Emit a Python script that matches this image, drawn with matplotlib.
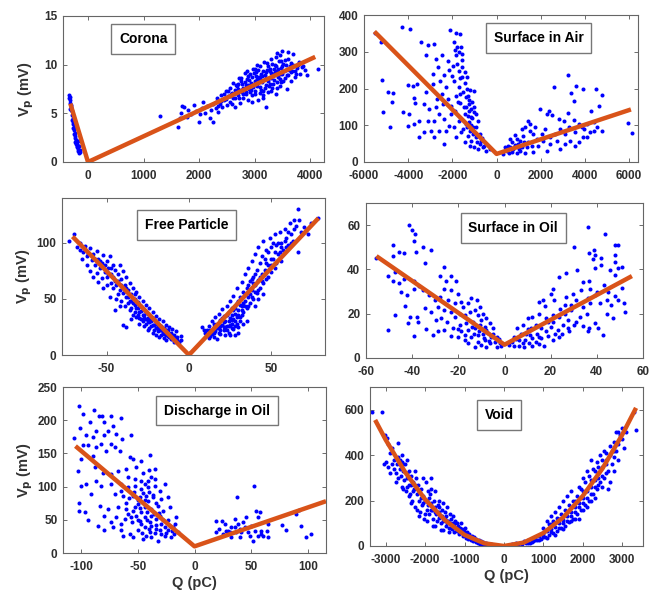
import matplotlib
matplotlib.use("Agg")
import matplotlib.pyplot as plt

plt.rcParams['font.family'] = ['Liberation Sans', 'DejaVu Sans']
plt.rcParams['font.weight'] = 'bold'
plt.rcParams['axes.labelweight'] = 'bold'
plt.rcParams['axes.unicode_minus'] = False

# ---- data: (Q in pC, Vp in mV) ----
corona_pts = [
    (-345, 6.6), (-335, 6.9), (-325, 6.4), (-330, 6.1), (-318, 6.7), (-310, 5.9), (-300, 5.6), (-315, 5.4),
    (-290, 5.2), (-285, 4.8), (-275, 4.5), (-270, 4.1), (-262, 3.9), (-255, 3.6), (-245, 3.3), (-240, 3.0),
    (-232, 2.7), (-225, 2.5), (-215, 2.3), (-208, 2.0), (-200, 1.8), (-192, 1.6), (-185, 1.3), (-175, 1.1),
    (-165, 0.9), (-150, 1.2), (-140, 1.0), (-230, 2.1), (-250, 2.9), (-265, 3.5), (-280, 4.3), (-305, 5.3),
    (-220, 1.9), (-205, 1.5), (-180, 2.2), (-160, 1.6),
    (1300, 4.7), (1620, 3.6), (1650, 4.5), (1680, 5.0), (1700, 5.8), (1720, 5.6), (1780, 4.6), (1800, 5.3),
    (1850, 4.9), (1900, 5.9), (1950, 5.2), (2000, 4.1), (2020, 4.9), (2050, 5.5), (2080, 6.2), (2100, 5.0),
    (2150, 5.8), (2200, 4.5), (2220, 5.3), (2250, 4.1), (2260, 6.0), (2300, 5.5), (2320, 6.6), (2350, 5.1),
    (2380, 6.0), (2400, 6.9), (2420, 5.7), (2450, 6.4), (2480, 7.3), (2500, 5.9), (2520, 6.8), (2550, 7.6),
    (2560, 6.2), (2600, 7.1), (2620, 8.1), (2640, 5.6), (2650, 6.6), (2680, 7.8), (2700, 6.9), (2720, 8.6),
    (2740, 6.1), (2750, 7.4), (2780, 8.0), (2800, 6.6), (2820, 9.1), (2840, 7.2), (2850, 7.9), (2870, 8.5),
    (2880, 6.4), (2900, 7.5), (2920, 9.0), (2940, 8.1), (2950, 6.9), (2970, 7.7), (2980, 9.6), (3000, 8.3),
    (3010, 7.0), (3030, 9.2), (3050, 7.8), (3060, 6.4), (3080, 8.7), (3100, 9.9), (3110, 7.4), (3130, 8.2),
    (3150, 9.4), (3160, 6.9), (3180, 8.9), (3200, 5.6), (3200, 7.9), (3220, 10.2), (3240, 8.5), (3250, 7.2),
    (3270, 9.6), (3280, 8.0), (3300, 10.6), (3310, 7.6), (3330, 9.0), (3350, 8.4), (3360, 10.0), (3380, 7.0),
    (3400, 11.2), (3400, 9.3), (3420, 8.7), (3440, 10.4), (3450, 7.8), (3470, 9.7), (3480, 8.2), (3500, 11.4),
    (3500, 9.0), (3520, 10.1), (3540, 8.6), (3560, 9.5), (3580, 7.5), (3600, 10.6), (3610, 8.9), (3630, 9.9),
    (3650, 8.3), (3680, 9.4), (3700, 11.1), (3700, 10.0), (3730, 8.7), (3760, 9.7), (3800, 10.3), (3820, 9.0),
    (3850, 9.8), (3900, 9.5), (3950, 8.9), (4150, 9.6), (2600, 6.0), (2700, 8.0), (2900, 8.4), (3000, 9.6),
    (3100, 8.5), (3200, 9.2), (2800, 7.6), (3300, 8.6), (3400, 7.6), (3150, 7.3), (2950, 8.7), (3050, 10.0),
    (3250, 9.9), (2850, 7.0), (3350, 9.6), (3450, 9.0), (3550, 10.5), (3650, 9.2), (2750, 8.6), (2550, 6.8),
    (2450, 7.0), (3000, 7.3), (3100, 7.1), (3250, 8.3), (2650, 7.4), (2780, 7.2), (2880, 7.9), (3020, 8.8),
    (3120, 9.0), (3180, 7.6), (3280, 9.3), (3380, 9.9), (3480, 10.4), (3580, 8.9), (2720, 6.6), (2920, 7.2),
    (2300, 6.2), (2350, 5.8), (2400, 6.3), (2480, 6.5), (2530, 7.3), (2580, 7.0), (2620, 6.6), (2660, 7.9),
    (2700, 7.5), (2760, 8.3), (2790, 7.0), (2830, 8.2), (2860, 9.3), (2890, 8.8), (2930, 7.4), (2960, 8.0),
    (2990, 9.1), (3040, 8.5), (3070, 9.5), (3090, 7.7), (3140, 8.8), (3170, 10.3), (3210, 8.6), (3230, 9.5),
    (3260, 7.8), (3290, 9.1), (3320, 10.1), (3340, 8.0), (3370, 9.2), (3390, 10.8), (3410, 8.2), (3430, 9.6),
    (3460, 8.5), (3490, 9.9), (3510, 8.3), (3530, 9.3), (3570, 10.0), (3620, 9.5), (3660, 10.2), (3720, 9.3),
    (3780, 10.0), (3300, 7.3), (3150, 6.6), (2950, 6.2), (3450, 11.0), (3600, 11.3), (3750, 9.0), (3870, 9.9),
]
corona_fit = [(-318, 6.0), (0, 0.0), (4092, 10.8)]

air_pts = [
    (-5500, 350), (-5210, 326), (-4290, 368), (-3920, 362), (-5170, 224), (-4900, 191), (-4670, 189),
    (-4740, 162), (-5140, 135), (-4830, 94), (-4000, 210), (-3760, 208), (-3580, 212), (-3730, 173),
    (-3680, 160), (-4230, 135), (-3990, 99), (-3500, 67), (-3420, 326), (-3090, 318), (-2850, 321),
    (-3200, 292), (-2740, 280), (-2470, 292), (-2090, 359), (-1830, 350), (-1640, 347), (-1600, 312),
    (-1940, 326), (-2210, 276), (-2670, 258), (-2360, 238), (-2140, 250), (-2030, 235), (-1830, 290),
    (-1790, 267), (-1580, 258), (-1910, 221), (-1640, 229), (-1450, 214), (-1530, 190), (-1300, 180),
    (-1120, 162), (-1000, 192), (-2890, 239), (-2890, 212), (-3200, 190), (-3300, 158), (-3050, 144),
    (-2740, 149), (-2590, 131), (-3120, 112), (-2820, 111), (-2360, 117), (-2060, 131), (-3500, 112),
    (-3270, 81), (-2970, 85), (-2820, 67), (-2590, 84), (-2360, 49), (-2290, 85), (-2140, 99), (-1910, 95),
    (-1830, 67), (-1600, 81), (-1680, 112), (-1450, 131), (-1380, 103), (-1230, 140), (-1150, 122),
    (-1000, 149), (-920, 131), (-850, 112), (-1070, 95), (-1300, 72), (-1150, 58), (-920, 67), (-770, 49),
    (-620, 40), (-850, 35), (-470, 31), (-320, 35), (-700, 58), (-1380, 176), (-1270, 158), (-1180, 144),
    (-1030, 135), (-1490, 149), (-1330, 199), (-1450, 244), (-1710, 248), (-1580, 277), (-1790, 312),
    (-2470, 185), (-2700, 171), (-2440, 158), (-2210, 171), (-2060, 153), (-1880, 140), (-1760, 162),
    (-1640, 185), (-2290, 203), (-2550, 221), (-3950, 131), (-3730, 103), (-1200, 44), (-1450, 54),
    (-1000, 40), (-550, 44), (-1250, 110), (-1100, 120), (-1350, 95), (-1200, 85), (-1050, 75),
    (-950, 95), (-1400, 150), (-1150, 100), (-1300, 125), (-1250, 170), (-1550, 230), (-1700, 205),
    (-1850, 180), (-1950, 260), (-1700, 300), (-1550, 295), (-1900, 305), (-1200, 195), (-1350, 230),
    (-1650, 160), (-1500, 90), (-900, 55), (-750, 75), (-650, 65),
    (3227, 237), (2576, 205), (3590, 208), (3363, 188), (3893, 198), (4515, 200), (4788, 182), (3515, 167),
    (4636, 152), (1970, 144), (2394, 140), (2273, 131), (2500, 127), (3212, 132), (4272, 138), (5939, 107),
    (6136, 80), (1439, 112), (1515, 103), (1288, 94), (1742, 94), (2197, 90), (2803, 117), (3030, 111),
    (3485, 114), (3863, 94), (4090, 103), (4394, 85), (4788, 84), (4090, 67), (3712, 54), (3333, 58),
    (2879, 35), (2424, 49), (2121, 58), (1894, 44), (1667, 76), (1212, 72), (909, 63), (682, 54), (530, 44),
    (758, 35), (1061, 31), (455, 31), (1364, 40), (1591, 44), (985, 49), (606, 63), (833, 74), (1136, 90),
    (1818, 63), (2652, 76), (3106, 76), (3561, 81), (3909, 67), (3106, 49), (3561, 44), (2273, 31),
    (1667, 26), (1288, 24), (303, 22), (909, 24), (1439, 54), (2045, 76), (2424, 67), (2879, 90),
    (3257, 94), (3712, 103), (3970, 90), (4394, 108), (4545, 94), (4242, 81), (2727, 58), (606, 40),
    (379, 42), (1061, 58), (1515, 85), (700, 28), (850, 45), (1150, 40), (550, 25), (1000, 36), (1250, 55),
]
air_fit = [(-5530, 355), (0, 22), (6080, 143)]

particle_pts = [
    (-73, 102), (-70, 108), (-68, 96), (-66, 100), (-64, 92), (-63, 97), (-62, 88), (-60, 95), (-59, 85),
    (-58, 90), (-57, 80), (-56, 93), (-55, 86), (-54, 78), (-53, 82), (-52, 89), (-51, 74), (-50, 84),
    (-50, 70), (-49, 78), (-48, 88), (-47, 72), (-46, 80), (-45, 66), (-45, 76), (-44, 62), (-43, 72),
    (-42, 80), (-42, 58), (-41, 68), (-40, 75), (-40, 55), (-39, 62), (-38, 52), (-38, 70), (-37, 58),
    (-36, 48), (-36, 64), (-35, 54), (-34, 46), (-34, 60), (-33, 50), (-32, 42), (-32, 56), (-31, 47),
    (-30, 38), (-30, 52), (-29, 44), (-28, 36), (-28, 48), (-27, 40), (-26, 32), (-26, 45), (-25, 37),
    (-24, 29), (-24, 42), (-23, 34), (-22, 27), (-22, 38), (-21, 31), (-20, 24), (-20, 35), (-19, 28),
    (-18, 22), (-18, 32), (-17, 26), (-16, 20), (-16, 30), (-15, 24), (-14, 18), (-14, 27), (-13, 22),
    (-12, 16), (-12, 25), (-11, 20), (-10, 14), (-10, 23), (-9, 18), (-8, 13), (-8, 21), (-7, 16), (-6, 12),
    (-5, 17), (-5, 13), (-38, 25), (-40, 27), (-35, 32), (-30, 28), (-27, 26), (-25, 22), (-22, 20),
    (-20, 18), (-45, 40), (-42, 44), (-48, 52), (-55, 65), (-60, 75), (-65, 86), (-52, 60), (-46, 60),
    (-44, 50), (-33, 38), (-36, 40), (-29, 32), (-26, 28), (-24, 24), (-18, 16), (-15, 15), (-14, 13),
    (-21, 22), (-23, 26), (-31, 36), (-37, 46), (-39, 44), (-43, 54), (-47, 64), (-50, 62), (-56, 73),
    (-62, 80), (-58, 70), (-53, 69), (-41, 48), (-34, 36), (-28, 30), (-19, 21), (-17, 18), (-11, 14),
    (-9, 12), (-32, 34), (-27, 33), (-23, 30), (-20, 28), (-17, 22), (-13, 17), (-30, 33), (-25, 30),
    (-66, 94), (-61, 90), (-57, 86), (-54, 84), (-49, 72), (-46, 70), (-44, 66), (-41, 62), (-39, 57),
    (-37, 52), (-35, 48), (-33, 45), (-31, 42), (-29, 39), (-27, 36), (-25, 33), (-23, 31), (-21, 27),
    (-19, 25), (-17, 22), (-15, 19), (-13, 19), (-11, 17), (-9, 15), (-7, 13), (-35, 42), (-30, 45),
    (-26, 38), (-22, 33), (-18, 27), (-14, 22), (-10, 18), (-43, 66), (-47, 78), (-51, 80), (-38, 60),
    (-33, 54),
    (8, 25), (9, 22), (10, 20), (11, 18), (12, 26), (12, 15), (13, 22), (14, 19), (14, 30), (15, 16),
    (15, 25), (16, 21), (16, 34), (17, 28), (17, 14), (18, 24), (18, 37), (19, 19), (19, 31), (20, 27),
    (20, 41), (21, 22), (21, 35), (22, 30), (22, 18), (23, 44), (23, 26), (24, 38), (24, 20), (25, 33),
    (25, 48), (26, 28), (26, 42), (27, 23), (27, 53), (28, 37), (28, 30), (29, 46), (29, 60), (30, 40),
    (30, 25), (31, 52), (31, 34), (32, 65), (32, 44), (33, 38), (33, 56), (34, 48), (34, 72), (35, 42),
    (35, 60), (36, 52), (36, 78), (37, 46), (37, 66), (38, 58), (38, 84), (39, 50), (39, 70), (40, 62),
    (40, 90), (41, 55), (41, 76), (42, 67), (42, 96), (43, 60), (43, 82), (44, 72), (45, 102), (45, 64),
    (46, 86), (46, 76), (47, 68), (48, 92), (48, 80), (49, 104), (50, 74), (50, 96), (51, 86), (52, 108),
    (52, 78), (53, 98), (54, 90), (55, 110), (56, 84), (56, 100), (57, 94), (58, 112), (59, 104), (60, 98),
    (61, 118), (62, 108), (63, 102), (64, 112), (66, 130), (66, 92), (67, 120), (70, 114), (72, 108),
    (78, 122), (20, 33), (22, 25), (24, 30), (26, 36), (28, 26), (30, 48), (32, 36), (34, 54), (36, 62),
    (38, 68), (40, 72), (44, 88), (47, 94), (50, 86), (53, 82), (35, 30), (40, 44), (45, 54), (28, 18),
    (25, 18), (30, 20), (33, 28), (18, 20), (15, 20), (19, 26), (21, 29), (23, 22), (26, 24), (29, 34),
    (31, 30), (27, 40), (33, 46), (37, 54), (42, 50),
    (11, 22), (13, 17), (15, 28), (17, 24), (19, 22), (21, 25), (23, 36), (25, 27), (27, 32), (29, 28),
    (30, 36), (32, 40), (34, 44), (36, 44), (38, 52), (40, 56), (42, 58), (44, 66), (46, 72), (48, 70),
    (50, 80), (52, 92), (54, 100), (56, 96), (58, 102), (60, 110), (62, 100), (64, 120), (24, 26), (26, 31),
    (28, 42), (31, 45), (35, 55), (39, 64), (43, 70), (47, 82), (51, 100), (55, 92), (59, 96), (65, 115),
    (68, 110), (74, 118),
]
particle_fit = [(-70.6, 105.6), (0, 0), (78.5, 122)]

oil_surface_pts = [
    (-41.5, 60), (-40, 58), (-38.8, 56), (-39.4, 53), (-48.2, 51), (-45.9, 48), (-43.4, 47.5), (-38.3, 48),
    (-35.1, 50), (-31.8, 49), (-34.3, 43), (-48.5, 46), (-55.8, 45), (-50.4, 37), (-47.5, 39), (-45.6, 34),
    (-48.1, 35), (-43.4, 35.5), (-39, 35), (-36.9, 32.5), (-44.9, 30), (-42.2, 28.4), (-39.4, 31),
    (-35.4, 30.7), (-32.5, 28.4), (-30, 26), (-43, 23.5), (-47.5, 19.4), (-41, 18.6), (-37.9, 18.6),
    (-42, 16), (-37.6, 16.4), (-50.3, 12.6), (-39.4, 10), (-34, 13), (-31.1, 10.4), (-26, 41), (-28.1, 37),
    (-25.2, 35), (-23.3, 37), (-20.9, 35), (-26.3, 31), (-23, 30.7), (-20.1, 29), (-28.1, 27.7),
    (-24.5, 26), (-21.6, 24.7), (-18.7, 25.4), (-15.8, 24.7), (-18, 23), (-14.3, 27), (-12.1, 26),
    (-10.7, 23), (-28.9, 23), (-26, 21.7), (-23, 21), (-31.8, 21), (-34.4, 22.4), (-29.6, 17), (-27.4, 18),
    (-24.8, 16.4), (-21.6, 18.6), (-19.4, 20), (-17.2, 19.4), (-15.1, 21), (-12.9, 21.7), (-11.4, 19.4),
    (-9.3, 20), (-7.8, 18), (-10, 17), (-13.6, 16.4), (-16.5, 15.6), (-19.4, 15), (-22.3, 13.4), (-26, 12.6),
    (-28.9, 12), (-18.7, 12), (-15.8, 12.6), (-12.9, 13.4), (-10.7, 15), (-8.5, 14), (-6.3, 15.6),
    (-4.9, 13.4), (-17.2, 8), (-14.3, 9.6), (-11.4, 10.4), (-9.3, 11), (-7.1, 11.4), (-11.4, 7.4),
    (-8.5, 8), (-6.3, 6.6), (-4.1, 7.4), (-3.4, 9.6), (-6, 9.6), (-7.8, 5.1), (-3.4, 5.1), (-10, 6),
    (-12.9, 5.1), (-15.8, 6.6), (-20.1, 9.6), (-23, 10), (-2, 6.6), (-5, 11), (-8, 12.5), (-13, 11),
    (-9, 9), (-2.5, 8.5), (-6.5, 7.8), (-1.5, 5.5), (-14, 14), (-11, 12), (-17, 10.5), (-20, 13),
    (36.1, 59), (43.4, 56), (47.8, 51), (49, 51), (30, 50), (36.6, 47.5), (38.6, 49), (39, 46.5),
    (47.8, 46.5), (38.3, 44.5), (42, 45), (42, 42), (39, 40.5), (45.6, 39.7), (47.8, 43.4), (49.2, 40.5),
    (50.7, 41), (47.8, 37.4), (26.7, 38.5), (31.5, 39.7), (36.4, 35), (37.2, 31), (33.9, 34.4), (23.5, 36.7),
    (20.9, 31), (20.2, 29), (16.5, 26), (15.1, 25.4), (17.7, 23.5), (21.6, 26), (26.7, 27.7), (29.6, 29),
    (33.2, 30.7), (36.1, 27), (39, 28.4), (41.2, 24.7), (44.2, 26), (50.7, 31.4), (52.1, 21), (47, 18),
    (42.7, 10.4), (36.1, 12), (39, 15.6), (40.5, 13.4), (35.7, 20), (32.5, 18.6), (28.9, 21.7), (26, 20),
    (23.8, 18.6), (20.9, 19.4), (18, 18), (15.1, 20), (12.1, 18.6), (10, 18), (7.8, 15), (5.6, 13.4),
    (4.1, 9.6), (6.3, 8), (9.3, 11), (11.4, 13.4), (13.6, 15), (15.8, 13.4), (18, 12), (20.2, 14), (23, 12.6),
    (25.2, 15), (27.4, 13.4), (30.3, 15), (23.8, 9.6), (20.9, 8), (17.2, 5.6), (13.6, 7.4), (10.7, 6.6),
    (8.5, 5.1), (6.3, 5.6), (15.1, 9.6), (12.1, 9), (7, 11), (3.4, 7.4), (18.7, 16.4), (21, 16.4),
    (27.4, 17), (31, 16.4), (33.9, 14.4), (36.8, 13.7), (44.2, 20), (46.3, 24), (49.2, 26), (51.7, 24.7),
    (2, 6), (4, 5.5), (9, 8), (11, 10.5), (14, 11), (16, 9), (19, 10), (22, 11), (25, 11), (28, 12),
    (12, 5.5), (15, 6.5), (8, 7), (5, 8.5), (10, 13), (26, 24), (24, 22), (29, 24), (31, 26), (34, 23),
    (37, 25), (40, 30), (43, 33), (45, 30), (48, 28),
]
oil_surface_fit = [(-55.5, 46), (0, 6), (55.2, 37)]

oil_discharge_pts = [
    (-101.5, 222), (-89, 216), (-98.5, 209), (-84, 206), (-81.4, 206), (-73.5, 207), (-64.6, 203), (-91.8, 197),
    (-79.4, 198), (-101, 189), (-72, 192), (-87.3, 183), (-76.4, 184), (-95.6, 177), (-89.6, 174), (-80, 177),
    (-69, 179), (-55.8, 177), (-106, 173), (-63.7, 172), (-82.3, 164), (-74, 164), (-98.5, 163), (-94, 163),
    (-86.7, 159), (-70.5, 159), (-78, 154), (-66, 154), (-57.3, 144), (-54.3, 142), (-39.5, 148), (-47, 139),
    (-100, 142), (-89.6, 146), (-103, 124), (-88.2, 129), (-80.8, 121), (-73.5, 119), (-67.5, 124),
    (-60.2, 126), (-51.3, 129), (-45.4, 121), (-40.4, 125), (-35, 126), (-58.7, 114), (-52.8, 111),
    (-47, 109), (-41, 109), (-35, 111), (-86.7, 109), (-95.6, 104), (-100, 101), (-82.3, 101), (-73.5, 104),
    (-64.6, 104), (-58.7, 99), (-52.8, 101), (-47, 96), (-41, 99), (-35, 101), (-30.7, 94), (-26.3, 104),
    (-70.5, 89), (-63, 86), (-54.3, 86), (-48.4, 84), (-42.5, 86), (-36.6, 84), (-29.2, 81), (-23.3, 84),
    (-91.2, 89), (-101.5, 76), (-97, 61), (-101.5, 63), (-83.8, 71), (-76.4, 66), (-67.5, 69), (-60.2, 66),
    (-54.3, 64), (-49.8, 74), (-44, 69), (-38, 66), (-32, 71), (-27.7, 64), (-21.9, 69), (-79.4, 56),
    (-69, 54), (-61.7, 51), (-55.8, 54), (-49.8, 49), (-44, 54), (-39.5, 46), (-33.6, 51), (-29.2, 44),
    (-23.3, 49), (-17.4, 44), (-15.9, 54), (-94, 49), (-85.2, 41), (-79.4, 35), (-72, 39), (-64.6, 34),
    (-57.3, 29), (-49.8, 34), (-44, 39), (-39.5, 31), (-33.6, 36), (-29.2, 29), (-23.3, 34), (-18.9, 39),
    (-14.5, 31), (-63, 26), (-54.3, 24), (-45.4, 21), (-38, 24), (-32, 18.5), (-26.3, 26), (-20.4, 24),
    (-42.5, 26), (-47, 44), (-38, 56), (-30.7, 56), (-52.8, 69), (-41, 79), (-33.6, 76), (-47, 61),
    (-51.3, 56), (-58.7, 59), (-38, 41), (-26.3, 39), (-64.6, 44), (-73.5, 46), (-45, 90), (-40, 92),
    (-50, 80), (-36, 58), (-42, 62), (-28, 50), (-34, 42), (-40, 36), (-46, 30), (-30, 35), (-25, 30),
    (-20, 33), (-48, 48), (-55, 46), (-44, 80), (-37, 88), (-53, 92), (-58, 83), (-44, 104), (-38, 115),
    (-31, 60), (-22, 40), (-18, 28), (-35, 30), (-42, 50), (-48, 68), (-60, 76), (-65, 94),
    (52.5, 101), (37.8, 84), (18.6, 48), (24.5, 48), (18.6, 31), (22, 36), (25, 28.6), (29.5, 33.6),
    (32.5, 38.7), (35.4, 51), (38.3, 43.7), (39.8, 36), (42.8, 46), (45.7, 53.7), (44.2, 38.7), (47.2, 31),
    (50.2, 41), (53.1, 33.6), (54.6, 63.7), (58.1, 61.3), (56, 53.7), (59, 33.6), (60, 26), (51.6, 18.5),
    (39.8, 24.6), (32.5, 23.6), (26.5, 43.7), (28, 33.6), (31, 31), (35.4, 38.7), (36.9, 31), (41.3, 31),
    (48.7, 26), (56, 26), (64.3, 33.6), (64.9, 43.7), (77.6, 42.6), (80.5, 34.6), (89.4, 58.7), (92.3, 64.8),
    (93.8, 41), (98.2, 23.6), (102.4, 28.6), (64.9, 24.6), (59, 28.6),
]
oil_discharge_fit = [(-105, 161), (0, 10), (116, 78)]

void_pts = [
    (-3350, 590), (-3100, 590), (-3020, 490), (-2980, 475), (-2950, 450), (-3050, 360), (-3000, 370),
    (-2950, 350), (-2900, 410), (-2850, 430), (-2700, 455), (-2800, 380), (-2780, 340), (-2750, 320),
    (-2720, 360), (-2700, 300), (-2680, 390), (-2650, 340), (-2620, 310), (-2600, 370), (-2580, 400),
    (-2550, 330), (-2530, 290), (-2500, 360), (-2480, 240), (-2460, 300), (-2450, 380), (-2420, 330),
    (-2400, 270), (-2380, 230), (-2350, 310), (-2330, 200), (-2300, 280), (-2280, 250), (-2250, 170),
    (-2230, 300), (-2200, 230), (-2180, 270), (-2150, 200), (-2130, 150), (-2100, 250), (-2080, 180),
    (-2060, 220), (-2040, 120), (-2000, 200), (-1980, 280), (-1960, 160), (-1940, 240), (-1920, 180),
    (-1900, 140), (-1880, 230), (-1860, 190), (-1840, 300), (-1820, 160), (-1800, 120), (-1780, 200),
    (-1760, 170), (-1740, 240), (-1720, 140), (-1700, 110), (-1680, 180), (-1660, 150), (-1640, 200),
    (-1620, 130), (-1600, 100), (-1580, 160), (-1560, 130), (-1540, 190), (-1520, 115), (-1500, 150),
    (-1480, 90), (-1460, 130), (-1440, 170), (-1420, 110), (-1400, 80), (-1380, 140), (-1360, 100),
    (-1340, 120), (-1320, 75), (-1300, 130), (-1280, 95), (-1260, 60), (-1240, 110), (-1220, 80),
    (-1200, 100), (-1180, 65), (-1160, 90), (-1140, 55), (-1120, 80), (-1100, 100), (-1080, 60),
    (-1060, 75), (-1040, 45), (-1020, 65), (-1000, 80), (-980, 50), (-960, 35), (-940, 60), (-920, 45),
    (-900, 30), (-880, 55), (-860, 40), (-840, 25), (-820, 45), (-800, 35), (-780, 20), (-760, 40),
    (-740, 28), (-720, 18), (-700, 32), (-680, 22), (-660, 12), (-640, 25), (-620, 18), (-600, 10),
    (-580, 22), (-560, 14), (-540, 8), (-520, 18), (-500, 12), (-480, 6), (-460, 15), (-440, 8), (-420, 4),
    (-400, 10), (-380, 5), (-360, 3), (-340, 7), (-320, 3), (-300, 2), (-2600, 260), (-2400, 220),
    (-2200, 160), (-2000, 140), (-1800, 90), (-1600, 70), (-1400, 60), (-2900, 320), (-2750, 280),
    (-2550, 250), (-2350, 190), (-2150, 130), (-1950, 110), (-1750, 90), (-1550, 70), (-2250, 330),
    (-2050, 300), (-2450, 260), (-1900, 210), (-1700, 150), (-1500, 120), (-1300, 100), (-1100, 70),
    (-2100, 210), (-2300, 240), (-1850, 160), (-1650, 125), (-1450, 100), (-1250, 80),
    (-2850, 360), (-2650, 380), (-2550, 360), (-2450, 320), (-2350, 270), (-2250, 270), (-2150, 240),
    (-2050, 190), (-1950, 200), (-1850, 250), (-1750, 150), (-1650, 170), (-1550, 110), (-1450, 110),
    (-1350, 80), (-1150, 75), (-1050, 55), (-950, 42), (-850, 35), (-750, 28), (-650, 20), (-550, 15),
    (150, 5), (200, 8), (250, 3), (300, 12), (350, 6), (400, 15), (450, 8), (500, 20), (550, 12), (600, 25),
    (650, 15), (700, 30), (750, 20), (800, 38), (850, 25), (900, 45), (950, 30), (1000, 55), (1000, 80),
    (1050, 40), (1100, 65), (1150, 50), (1150, 95), (1200, 75), (1250, 58), (1250, 110), (1300, 85),
    (1350, 65), (1350, 125), (1400, 100), (1450, 80), (1450, 140), (1500, 115), (1550, 90), (1550, 160),
    (1600, 130), (1650, 105), (1650, 180), (1700, 150), (1750, 120), (1750, 200), (1800, 170), (1850, 140),
    (1850, 220), (1900, 190), (1950, 160), (1950, 250), (2000, 210), (2050, 180), (2050, 280), (2100, 240),
    (2150, 200), (2150, 310), (2200, 260), (2250, 230), (2250, 340), (2300, 290), (2350, 250), (2350, 370),
    (2400, 320), (2450, 280), (2450, 400), (2500, 350), (2550, 300), (2550, 420), (2600, 380), (2650, 330),
    (2650, 250), (2700, 400), (2700, 440), (2750, 360), (2800, 460), (2800, 390), (2850, 420), (2850, 500),
    (2900, 450), (2950, 490), (3000, 470), (3050, 430), (3100, 500), (3300, 590), (3350, 510), (1900, 120),
    (2100, 170), (2300, 210), (2500, 260), (1700, 110), (1500, 75), (1300, 50), (1100, 35), (900, 25),
    (700, 18), (1200, 95), (1400, 120), (1600, 150), (1800, 200), (2000, 240), (2200, 290), (2400, 350),
    (2600, 410), (1800, 120), (2000, 160), (2200, 200), (2400, 270), (2600, 320), (2200, 380), (2700, 280),
    (2900, 380), (2800, 330), (2000, 300), (2100, 330), (1900, 260), (1500, 200), (1600, 220), (1400, 170),
    (1300, 150), (1700, 240), (1100, 110), (1200, 130), (2300, 330), (2500, 380), (2750, 420),
    (600, 15), (800, 28), (1000, 40), (1200, 60), (1400, 80), (1600, 110), (1800, 150), (2000, 190),
    (2200, 230), (2400, 300), (2600, 360), (2800, 420), (3000, 520), (2900, 500), (2500, 310), (2300, 260),
    (2100, 210), (1900, 170), (1700, 130), (1500, 100),
]
void_fit = [(-3270, 555), (-3000, 467), (-2500, 323), (-2000, 205), (-1500, 114), (-1000, 49), (-500, 12),
            (0, 0), (500, 15), (1000, 57), (1500, 125), (2000, 220), (2500, 341), (3000, 489), (3354, 608)]

titles = ['Corona', 'Surface in Air', 'Free Particle', 'Surface in Oil', 'Discharge in Oil', 'Void']

W, H = 662, 592
fig = plt.figure(figsize=(W / 100, H / 100), dpi=100)


def px_axes(left, top, right, bottom):
    return fig.add_axes([left / W, 1 - bottom / H, (right - left) / W, (bottom - top) / H])


panels = [
    dict(box=(63, 16, 324, 162), pts=corona_pts, fit=corona_fit, xlim=(-450, 4250), ylim=(0, 15),
         xt=[0, 1000, 2000, 3000, 4000], yt=[0, 5, 10, 15], tpos=(0.307, 0.842), ylab=True, xlab=False),
    dict(box=(364, 15, 638, 162), pts=air_pts, fit=air_fit, xlim=(-6000, 6400), ylim=(0, 400),
         xt=range(-6000, 6001, 2000), yt=range(0, 401, 100), tpos=(0.637, 0.844), ylab=False, xlab=False),
    dict(box=(62, 198, 325, 355), pts=particle_pts, fit=particle_fit, xlim=(-77, 82.5), ylim=(0, 140),
         xt=[-50, 0, 50], yt=[0, 50, 100], tpos=(0.473, 0.828), ylab=True, xlab=False),
    dict(box=(366, 203, 643, 358), pts=oil_surface_pts, fit=oil_surface_fit, xlim=(-60, 60), ylim=(0, 70),
         xt=range(-60, 61, 20), yt=[0, 20, 40, 60], tpos=(0.531, 0.839), ylab=False, xlab=False),
    dict(box=(63, 387, 326, 553), pts=oil_discharge_pts, fit=oil_discharge_fit, xlim=(-116, 116),
         ylim=(0, 250), xt=[-100, -50, 0, 50, 100], yt=range(0, 251, 50), tpos=(0.586, 0.858),
         ylab=True, xlab=True),
    dict(box=(370, 387, 643, 546), pts=void_pts, fit=void_fit, xlim=(-3400, 3530), ylim=(0, 700),
         xt=range(-3000, 3001, 1000), yt=[0, 200, 400, 600], tpos=(0.473, 0.824), ylab=False, xlab=True),
]

for p, title in zip(panels, titles):
    ax = px_axes(*p['box'])
    q = [a for a, b in p['pts']]
    v = [b for a, b in p['pts']]
    ax.plot(q, v, 'o', color='#0000FF', markersize=2.9, markeredgewidth=0, zorder=2)
    fq = [a for a, b in p['fit']]
    fv = [b for a, b in p['fit']]
    ax.plot(fq, fv, '-', color='#D95319', linewidth=3.2, solid_capstyle='butt', zorder=3)
    ax.set_xlim(*p['xlim'])
    ax.set_ylim(*p['ylim'])
    ax.set_xticks(list(p['xt']))
    ax.set_yticks(list(p['yt']))
    ax.tick_params(direction='in', top=True, right=True, length=3, width=0.6,
                   labelsize=8.5, labelcolor='#2e2e2e', color='#555555', pad=4)
    ax.tick_params(axis='x', pad=6)
    for s in ax.spines.values():
        s.set_color('#666666')
        s.set_linewidth(0.8)
    ax.text(p['tpos'][0], p['tpos'][1], title, transform=ax.transAxes, ha='center', va='center',
            fontsize=10, fontweight='bold', color='black',
            bbox=dict(boxstyle='square,pad=0.55', facecolor='white', edgecolor='#777777', linewidth=1.0))
    if p['ylab']:
        ax.set_ylabel(r'V$_\mathbf{p}$ (mV)', fontsize=10.5, color='#333333')
        ax.yaxis.set_label_coords(-0.105, 0.5)
    if p['xlab']:
        ax.set_xlabel('Q (pC)', fontsize=10.5, color='#333333', labelpad=2)

fig.savefig('out.png', dpi=100)
